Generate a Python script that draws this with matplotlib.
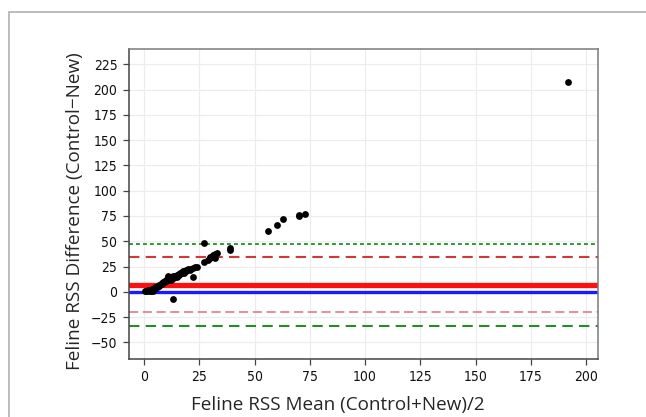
import matplotlib
matplotlib.use("Agg")
import matplotlib.pyplot as plt
from matplotlib.patches import Rectangle
from matplotlib import font_manager

# Bland-Altman: Mittelwert vs. Differenz
mean_vals = [0.5, 1, 1.5, 2, 2.5, 3, 3.5, 4, 4.5, 5, 5.5, 6, 6.5, 7, 7.5, 8, 8.5, 9,
             9.5, 10, 10.5, 11, 11.5, 12, 12, 12.5, 13, 13.5, 14, 14.5, 15, 15.5, 16,
             16.5, 17, 17.5, 18, 19, 20, 21, 22, 23, 24, 22, 13, 27, 27, 29, 30, 31,
             31, 32, 33, 39, 39, 56, 60, 63, 70, 70, 73, 192,
             3, 5, 7, 8, 9, 10, 11, 11, 12, 13, 14, 15, 16, 17, 18, 19, 21, 11, 30, 32]
diff_vals = [0.5, 0.5, 1, 1.5, 1, 2, 2.5, 1, 3, 3.5, 4, 5, 5.5, 7, 8, 9, 9.5, 10,
             11, 11, 12, 13, 14, 15, 12, 13, 14, 15, 15, 16, 17, 17, 18,
             19, 20, 21, 21, 22, 23, 23, 24, 25, 25, 15, -7, 48, 29, 31, 33, 35,
             36, 37, 38, 41, 43, 60, 66, 72, 75, 76, 77, 208,
             1, 5, 6, 8, 10, 12, 12, 15, 13, 16, 16, 15, 17, 19, 19, 21, 22, 16, 34, 33]

mean_diff = 7
zero_line = 0
upper_loa = 34
lower_loa = -20
upper_ci = 47
lower_ci = -34

xticks = [0, 25, 50, 75, 100, 125, 150, 175, 200]
yticks = [-50, -25, 0, 25, 50, 75, 100, 125, 150, 175, 200, 225]

label_font = "Open Sans"

fig = plt.figure(figsize=(6.46, 4.17), dpi=100)
fig.patches.append(Rectangle((9 / 646, -0.1), 1.0, (417 - 12) / 417 + 0.1,
                             transform=fig.transFigure, fill=False,
                             edgecolor="#b0b0b0", linewidth=1.2))
ax = fig.add_axes([0.199, 0.139, 0.727, 0.743])

ax.axhline(upper_ci, color="#2f9a2f", lw=1.4, ls=(0, (2, 1.6)), zorder=2)
ax.axhline(upper_loa, color="#cc3a3a", lw=1.5, ls=(0, (5, 3)), zorder=2)
ax.axhline(mean_diff, color="#ff1010", lw=3.8, zorder=2)
ax.axhline(zero_line, color="#1a1aff", lw=2.4, zorder=2)
ax.axhline(lower_loa, color="#d9737b", lw=1.1, ls=(0, (6, 3)), zorder=2)
ax.axhline(lower_ci, color="#2a8a2a", lw=1.5, ls=(0, (5, 3)), zorder=2)

ax.scatter(mean_vals, diff_vals, s=24, color="black", zorder=3, linewidths=0)

ax.set_xlim(-7, 205.5)
ax.set_ylim(-66.5, 240)
ax.set_xticks(xticks)
ax.set_yticks(yticks)
ax.grid(True, color="#ececec", lw=0.8, zorder=0)
ax.set_axisbelow(True)
for lab in ax.get_xticklabels() + ax.get_yticklabels():
    lab.set_fontfamily("DejaVu Sans")
    lab.set_fontstretch("condensed")
    lab.set_fontsize(10)
    lab.set_color("#111111")
ax.tick_params(direction="out", length=4, width=0.9, color="#444444", pad=4)
for side in ["left", "bottom"]:
    ax.spines[side].set_color("#444444")
    ax.spines[side].set_linewidth(1.1)
for side in ["top", "right"]:
    ax.spines[side].set_color("#7a7a7a")
    ax.spines[side].set_linewidth(1.1)

fig.text(338 / 646, 1 - 405 / 417, "Feline RSS Mean (Control+New)/2",
         ha="center", va="center", fontsize=13.6, family=label_font, color="#262626")
fig.text(75 / 646, 1 - 211 / 417, "Feline RSS Difference (Control\u2212New)",
         ha="center", va="center", rotation=90, fontsize=13.6, family=label_font,
         color="#262626")

fig.savefig("out.png", dpi=100)
